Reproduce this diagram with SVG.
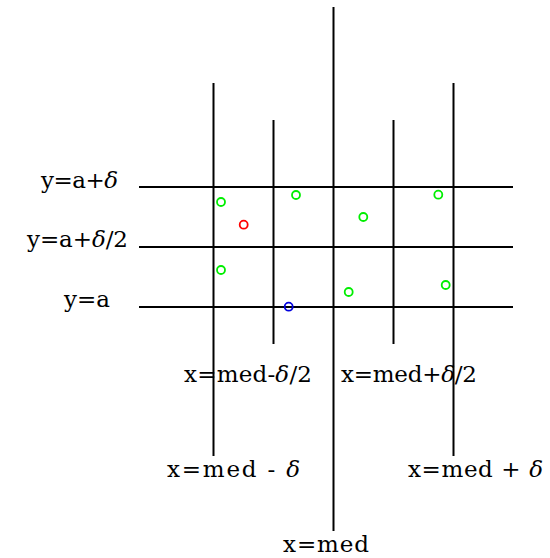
<svg xmlns="http://www.w3.org/2000/svg" width="550" height="558" viewBox="0 0 550 558">
<style>
.ln{stroke:#000;stroke-width:2;fill:none}
.pt{fill:none;stroke-width:1.8}
.g{stroke:#00ee00}
.r{stroke:#ff0000}
.b{stroke:#0000dd}
text{font-family:"DejaVu Serif","Liberation Serif",serif;font-size:23px;fill:#000}
.d{font-style:italic}
</style>
<rect width="550" height="558" fill="#fff"/>
<g id="connectors">
<line class="ln" x1="139" y1="187" x2="513" y2="187"/>
<line class="ln" x1="139" y1="247" x2="513" y2="247"/>
<line class="ln" x1="139" y1="307" x2="513" y2="307"/>
<line class="ln" x1="213.5" y1="83" x2="213.5" y2="456"/>
<line class="ln" x1="273.5" y1="120" x2="273.5" y2="344"/>
<line class="ln" x1="333.5" y1="7" x2="333.5" y2="531"/>
<line class="ln" x1="393.5" y1="120" x2="393.5" y2="344"/>
<line class="ln" x1="453.5" y1="83" x2="453.5" y2="456"/>
</g>
<g id="labels">
<text id="ya_d" x="41" y="188" textLength="77">y=a+<tspan class="d">δ</tspan></text>
<text id="ya_d2" x="27" y="247" textLength="101">y=a+<tspan class="d">δ</tspan>/2</text>
<text id="ya" x="64" y="307" textLength="46">y=a</text>
<text id="xm_d2" x="184" y="382" textLength="128">x=med-<tspan class="d">δ</tspan>/2</text>
<text id="xp_d2" x="341" y="382" textLength="136">x=med+<tspan class="d">δ</tspan>/2</text>
<text id="xm_d" x="167" y="477" textLength="133">x=med - <tspan class="d">δ</tspan></text>
<text id="xp_d" x="408" y="477" textLength="135">x=med + <tspan class="d">δ</tspan></text>
<text id="xmed" x="283" y="552" textLength="86">x=med</text>
</g>
<g id="points">
<circle class="pt g" cx="221" cy="202" r="4"/>
<circle class="pt r" cx="243.7" cy="224.7" r="4"/>
<circle class="pt g" cx="296" cy="195" r="4"/>
<circle class="pt g" cx="363.3" cy="217" r="4"/>
<circle class="pt g" cx="438.3" cy="194.7" r="4"/>
<circle class="pt g" cx="221" cy="270" r="4"/>
<circle class="pt g" cx="348.7" cy="292" r="4"/>
<circle class="pt g" cx="445.7" cy="285" r="4"/>
<circle class="pt b" cx="288.7" cy="306.7" r="4"/>
</g>
</svg>
